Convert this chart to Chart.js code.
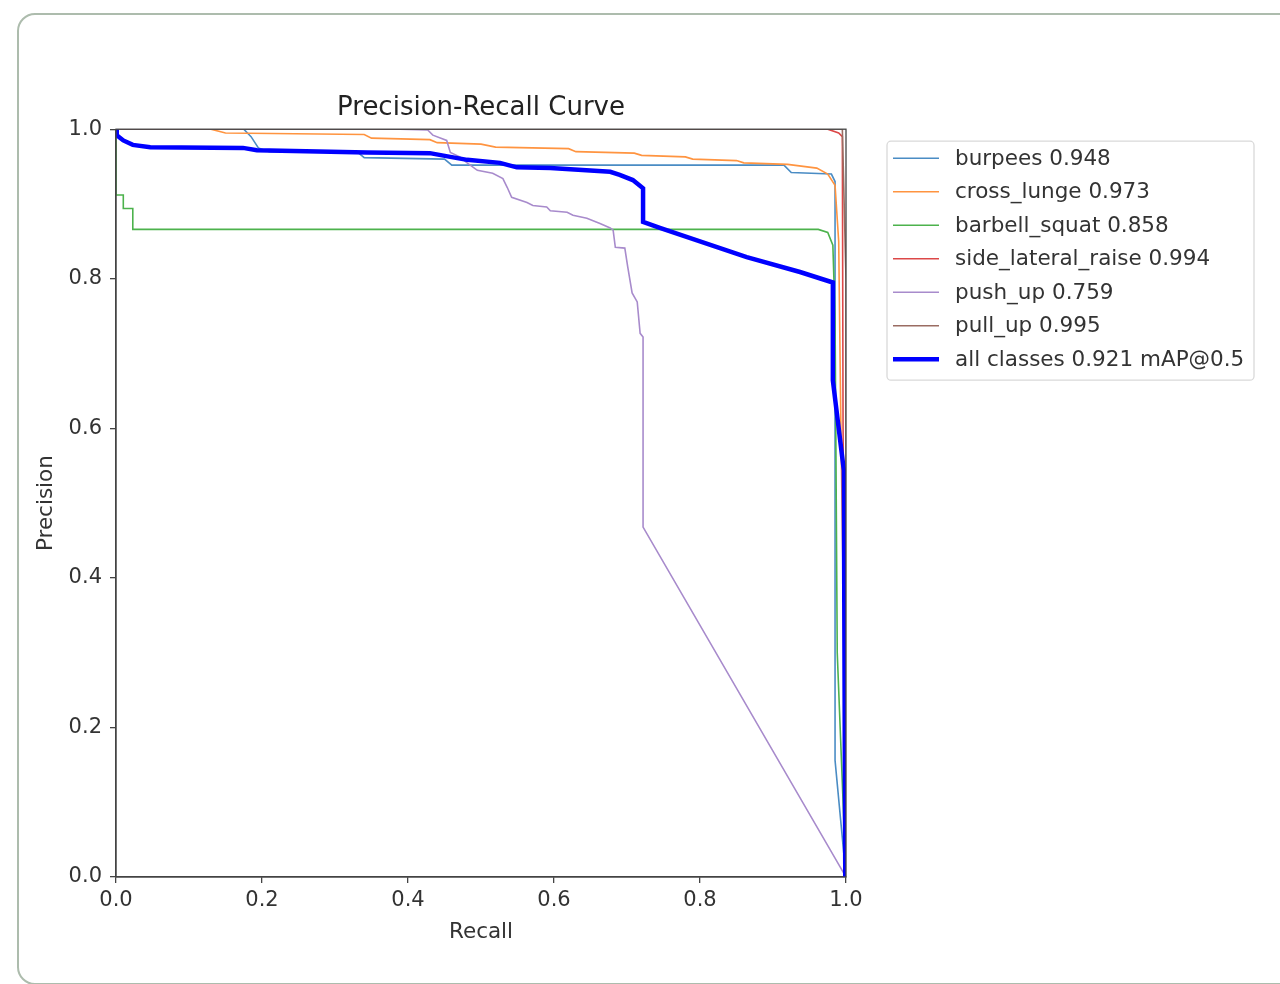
<!DOCTYPE html>
<html>
<head>
<meta charset="utf-8">
<script src="https://cdn.jsdelivr.net/npm/chart.js@4.4.1/dist/chart.umd.min.js"></script>
<style>
  html, body { margin: 0; padding: 0; background: #fff; overflow: hidden; }
  #card { position: absolute; left: 17px; top: 13px; width: 1300px; height: 972px;
          border: 2px solid #adbcad; border-radius: 18px; box-sizing: border-box; }
  #wrap { position: absolute; left: 0; top: 0; width: 1280px; height: 984px; }
</style>
</head>
<body>
<div id="card"></div>
<div id="wrap"><canvas id="grafico" width="1280" height="984"></canvas></div>
<script>
// Curvas precision-recall (recall en x, precision en y)
const burpeesRecall    = [0, 0.175, 0.185, 0.195, 0.21, 0.33, 0.34, 0.45, 0.46, 0.915, 0.925, 0.98, 0.985, 0.985, 1.0];
const burpeesPrecision = [1.0, 1.0, 0.99, 0.975, 0.97, 0.97, 0.962, 0.96, 0.952, 0.952, 0.942, 0.94, 0.93, 0.156, 0.0];

const crossRecall    = [0, 0.13, 0.15, 0.34, 0.35, 0.43, 0.44, 0.50, 0.52, 0.62, 0.63, 0.71, 0.72, 0.78, 0.79, 0.85, 0.86, 0.92, 0.96, 0.975, 0.985, 0.99, 0.993, 0.996, 1.0];
const crossPrecision = [1.0, 1.0, 0.995, 0.993, 0.988, 0.986, 0.982, 0.98, 0.976, 0.974, 0.97, 0.968, 0.965, 0.963, 0.96, 0.958, 0.955, 0.953, 0.948, 0.94, 0.925, 0.85, 0.6, 0.4, 0.0];

const squatRecall    = [0, 0, 0.01, 0.01, 0.023, 0.023, 0.962, 0.975, 0.982, 0.985, 0.988, 1.0];
const squatPrecision = [1.0, 0.912, 0.912, 0.894, 0.894, 0.866, 0.866, 0.862, 0.845, 0.75, 0.3, 0.0];

const lateralRecall    = [0, 0.975, 0.99, 0.995, 0.996, 1.0];
const lateralPrecision = [1.0, 1.0, 0.995, 0.99, 0.6, 0.0];

const pushRecall    = [0, 0.389, 0.427, 0.434, 0.453, 0.458, 0.471, 0.481, 0.495, 0.516, 0.530, 0.536, 0.542, 0.563, 0.571, 0.590, 0.595, 0.618, 0.626, 0.645, 0.663, 0.677, 0.681, 0.684, 0.697, 0.701, 0.707, 0.714, 0.718, 0.722, 0.722, 1.0];
const pushPrecision = [1.0, 1.0, 0.999, 0.992, 0.985, 0.969, 0.963, 0.955, 0.945, 0.941, 0.934, 0.922, 0.909, 0.902, 0.898, 0.896, 0.891, 0.889, 0.885, 0.881, 0.874, 0.868, 0.865, 0.842, 0.841, 0.816, 0.781, 0.769, 0.727, 0.722, 0.468, 0.0];

const pullRecall    = [0, 0.995, 1.0, 1.0];
const pullPrecision = [1.0, 1.0, 0.8, 0.0];

const allRecall    = [0, 0.001, 0.01, 0.023, 0.047, 0.174, 0.193, 0.344, 0.430, 0.458, 0.481, 0.526, 0.549, 0.595, 0.677, 0.690, 0.708, 0.722, 0.722, 0.745, 0.864, 0.937, 0.982, 0.982, 0.997, 0.999];
const allPrecision = [1.0, 0.992, 0.985, 0.979, 0.976, 0.975, 0.972, 0.969, 0.968, 0.963, 0.959, 0.955, 0.949, 0.948, 0.943, 0.939, 0.932, 0.921, 0.876, 0.868, 0.829, 0.809, 0.795, 0.664, 0.544, 0.0];

const etiquetas = ['burpees 0.948', 'cross_lunge 0.973', 'barbell_squat 0.858', 'side_lateral_raise 0.994',
                   'push_up 0.759', 'pull_up 0.995', 'all classes 0.921 mAP@0.5'];
const colores = ['#4a8cc4', '#ff9440', '#4cb24c', '#dc4848', '#a88bcc', '#9a6c62', '#0000ff'];
const grosores = [1.6, 1.6, 1.6, 1.6, 1.6, 1.6, 4.5];
const ticksEje = [0, 0.2, 0.4, 0.6, 0.8, 1.0];

const curvas = [
  [burpeesRecall, burpeesPrecision],
  [crossRecall, crossPrecision],
  [squatRecall, squatPrecision],
  [lateralRecall, lateralPrecision],
  [pushRecall, pushPrecision],
  [pullRecall, pullPrecision],
  [allRecall, allPrecision],
];

const fuente = '"DejaVu Sans", sans-serif';
const colorTexto = '#333';
const colorEje = '#444';

// marco completo de los ejes y leyenda con recuadro (estilo matplotlib)
const marcoYLeyenda = {
  id: 'marcoYLeyenda',
  afterDatasetsDraw(chart) {
    const { ctx, chartArea: a } = chart;
    ctx.save();
    ctx.strokeStyle = colorEje;
    ctx.lineWidth = 1.3;
    ctx.strokeRect(a.left, a.top, a.right - a.left, a.bottom - a.top);

    const x0 = a.right + 41, y0 = a.top + 12, w = 367, h = 239;
    ctx.beginPath();
    ctx.roundRect(x0, y0, w, h, 4);
    ctx.fillStyle = 'rgba(255,255,255,0.85)';
    ctx.fill();
    ctx.strokeStyle = '#d9d9d9';
    ctx.lineWidth = 1.3;
    ctx.stroke();

    ctx.font = '21.5px ' + fuente;
    ctx.textBaseline = 'middle';
    chart.data.datasets.forEach((ds, i) => {
      const y = y0 + 17 + i * 33.5;
      ctx.strokeStyle = ds.borderColor;
      ctx.lineWidth = ds.borderWidth;
      ctx.beginPath();
      ctx.moveTo(x0 + 6, y);
      ctx.lineTo(x0 + 52, y);
      ctx.stroke();
      ctx.fillStyle = colorTexto;
      ctx.fillText(ds.label, x0 + 68, y + 1);
    });
    ctx.restore();
  }
};

const datasets = curvas.map(([r, p], i) => ({
  label: etiquetas[i],
  data: r.map((x, k) => ({ x: x, y: p[k] })),
  borderColor: colores[i],
  borderWidth: grosores[i],
  pointRadius: 0,
  tension: 0,
  fill: false,
  order: curvas.length - 1 - i,
}));

const ejeComun = {
  type: 'linear',
  min: 0,
  max: 1,
  afterBuildTicks: (s) => { s.ticks = ticksEje.map(v => ({ value: v })); },
  ticks: {
    color: colorTexto,
    font: { family: fuente, size: 21 },
    callback: v => v.toFixed(1),
  },
  grid: { drawOnChartArea: false, drawTicks: true, tickLength: 6, color: colorEje, lineWidth: 1.3 },
  border: { display: true, color: colorEje, width: 1.3 },
};

new Chart(document.getElementById('grafico'), {
  type: 'line',
  data: { datasets: datasets },
  options: {
    responsive: false,
    animation: false,
    devicePixelRatio: 1,
    layout: { padding: { left: 28, top: 93, right: 434, bottom: 28 } },
    plugins: {
      legend: { display: false },
      tooltip: { enabled: false },
      title: {
        display: true,
        text: 'Precision-Recall Curve',
        fullSize: false,
        color: '#222',
        font: { family: fuente, size: 26, weight: 'normal' },
        padding: { top: 0, bottom: 5 },
      },
    },
    scales: {
      x: Object.assign({}, ejeComun, {
        ticks: Object.assign({}, ejeComun.ticks, { padding: 5, maxRotation: 0 }),
        title: { display: true, text: 'Recall', color: colorTexto, font: { family: fuente, size: 21.5 }, padding: { top: 4, bottom: 11 } },
        afterFit: (s) => { s.height = 79; },
      }),
      y: Object.assign({}, ejeComun, {
        ticks: Object.assign({}, ejeComun.ticks, { padding: 8 }),
        title: { display: true, text: 'Precision', color: colorTexto, font: { family: fuente, size: 21.5 }, padding: { top: 6, bottom: 4 } },
        afterFit: (s) => { s.width = 88; },
      }),
    },
  },
  plugins: [marcoYLeyenda],
});
</script>
</body>
</html>
